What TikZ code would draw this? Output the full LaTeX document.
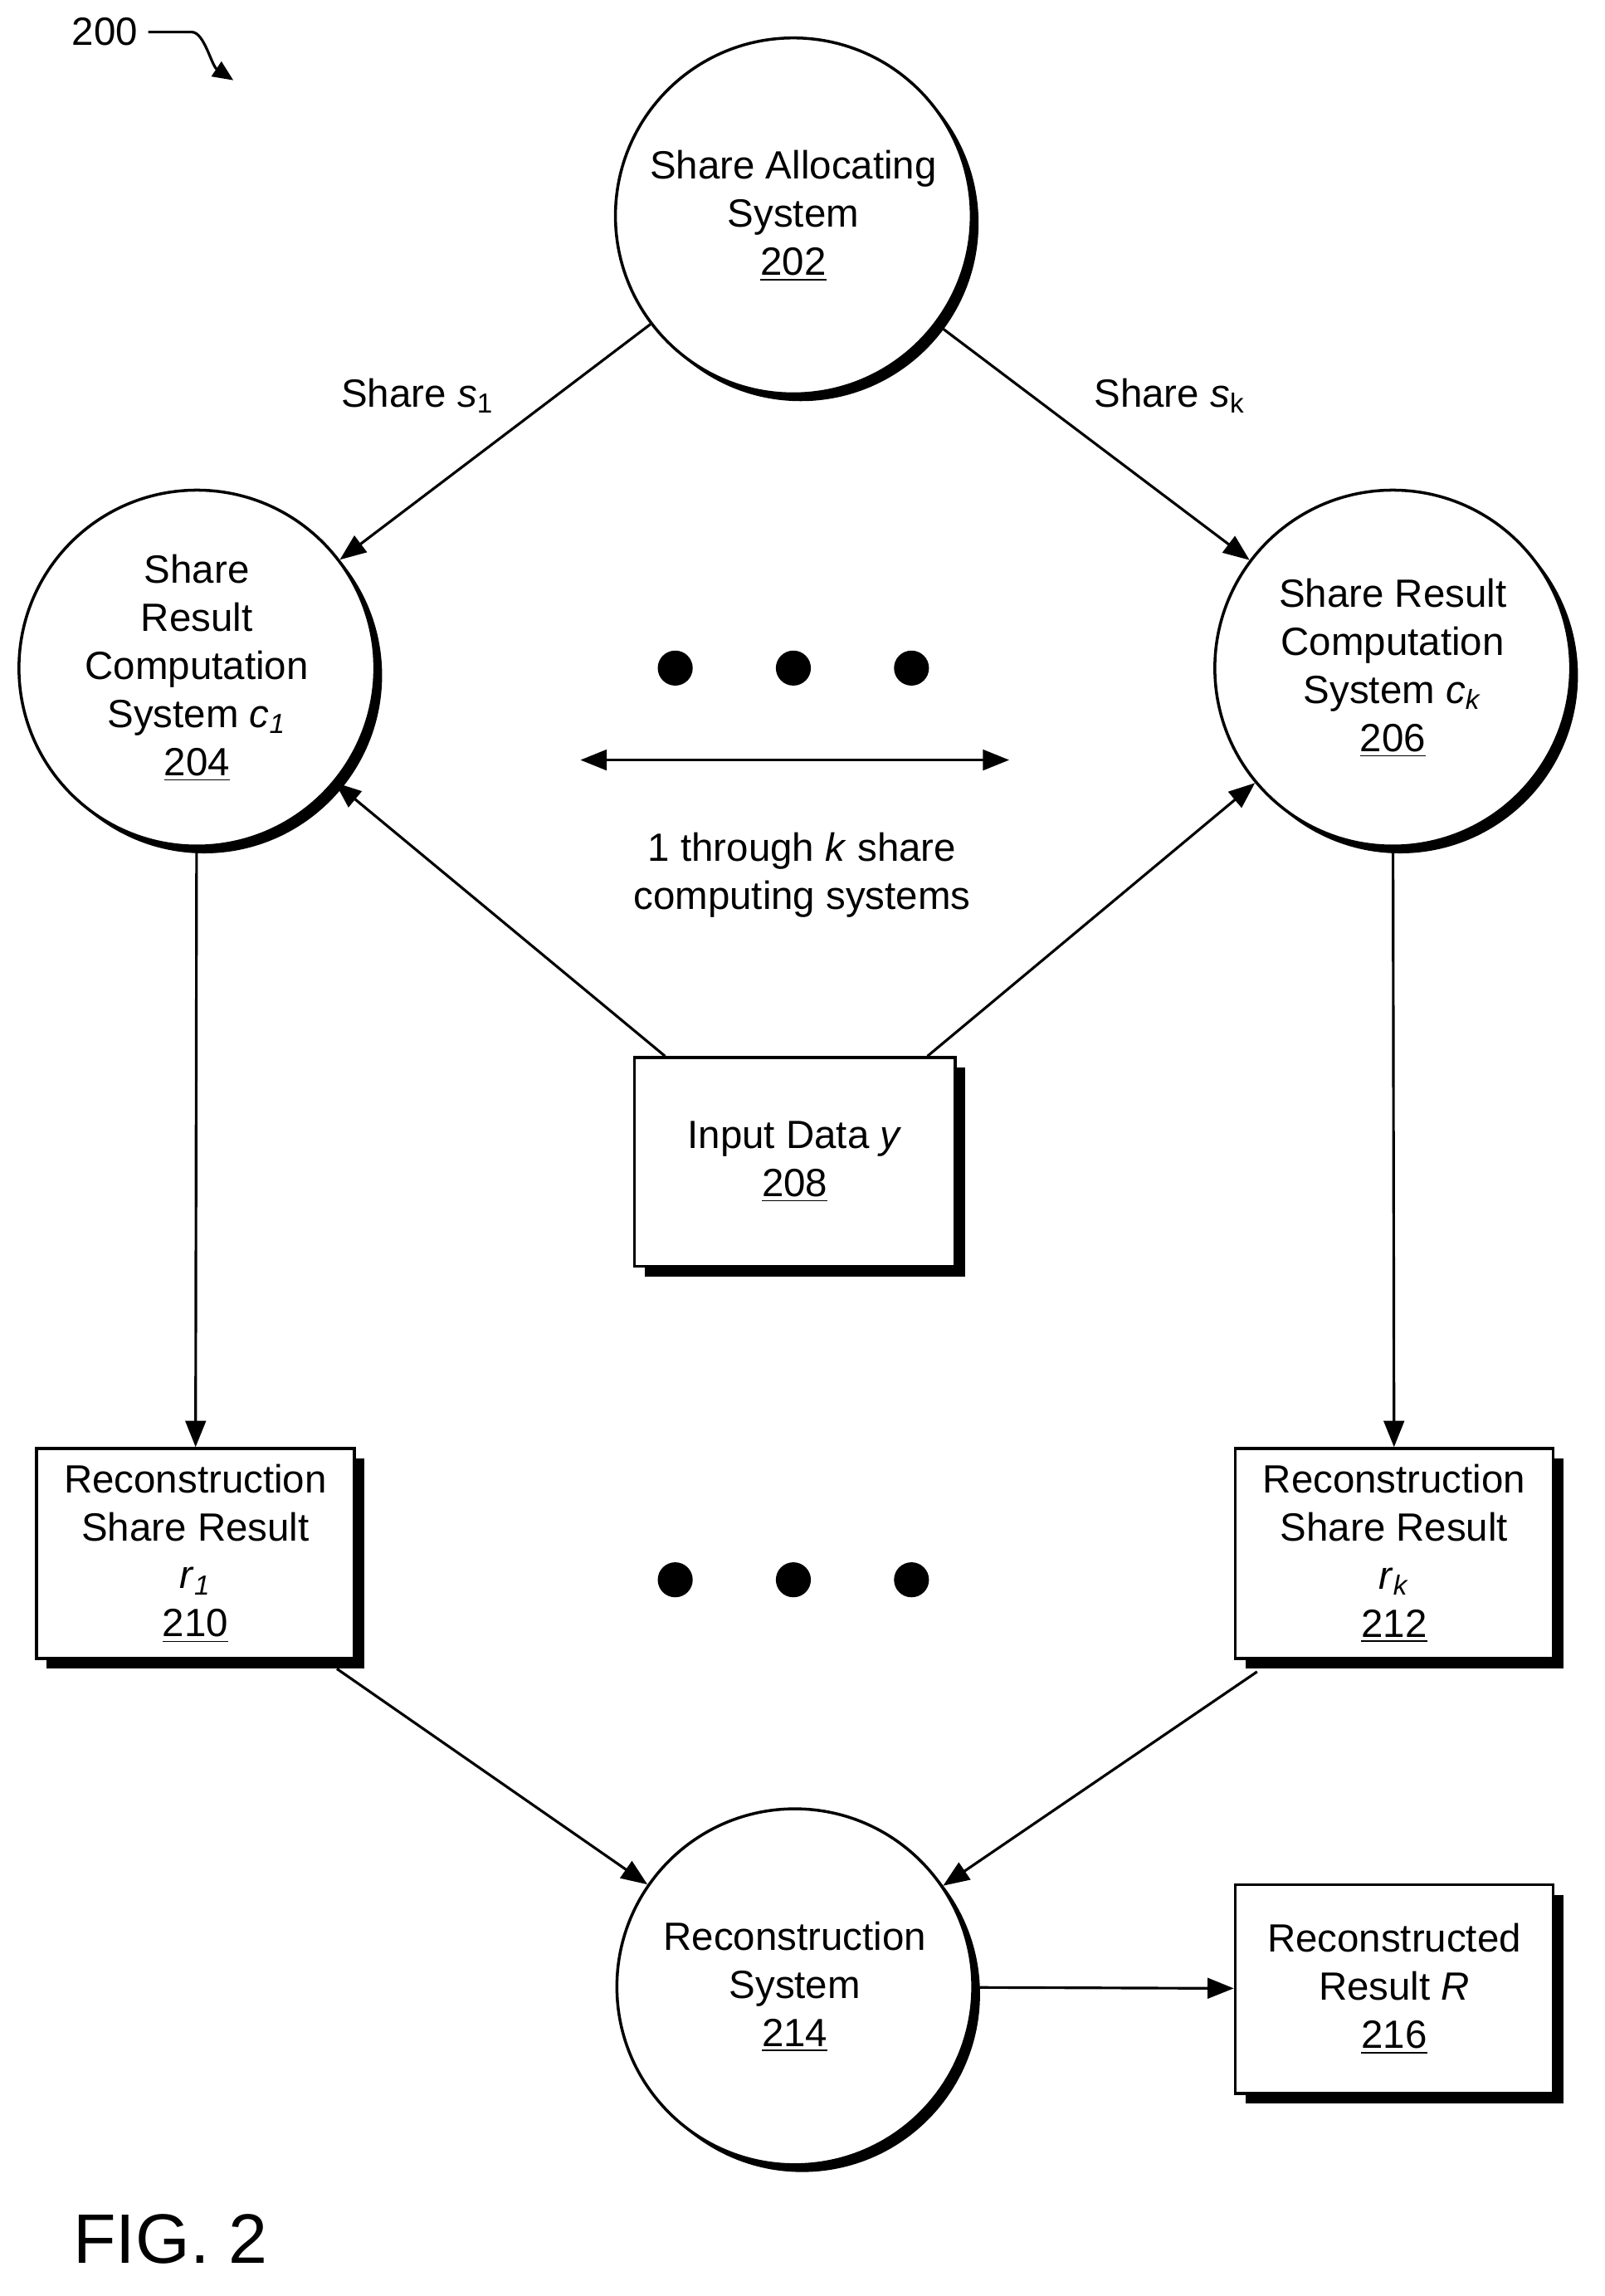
\documentclass[tikz,border=0pt]{standalone}
\usepackage{fontspec}
\setmainfont{Liberation Sans}
\usetikzlibrary{arrows.meta}
\begin{document}
\begin{tikzpicture}[x=0.5pt,y=-0.5pt,
  every node/.style={font=\fontsize{13.5}{16.5}\selectfont},
  circ/.style={circle,draw,line width=1pt,fill=white,minimum size=122pt,inner sep=0pt,align=center},
  bx/.style={draw,line width=1pt,fill=white,align=center,inner sep=0pt},
  arr/.style={line width=0.9pt,-{Triangle[length=9pt,width=7pt]}},
  dot/.style={circle,fill=black,minimum size=12pt,inner sep=0pt}]
\useasboundingbox (0,0) rectangle (1100,1574);
% shadows
\foreach \x/\y in {544/148,135/458,955/458,545/1362}{\fill (\x+5,\y+5) circle (61pt);}
\fill (442,732) rectangle (662,875);
\fill (32,1000) rectangle (250,1144);
\fill (854,1000) rectangle (1072,1144);
\fill (854,1299) rectangle (1072,1442);
\node[circ] (a) at (544,148) {Share Allocating\\System\\\underline{202}};
\node[circ] (c1) at (135,458) {Share\\Result\\Computation\\System \textit{c}\textsubscript{\textit{1}}\\\underline{204}};
\node[circ] (ck) at (955,458) {Share Result\\Computation\\System \textit{c}\textsubscript{\textit{k}}\\\underline{206}};
\node[circ] (rs) at (545,1362) {Reconstruction\\System\\\underline{214}};
\node[bx,minimum width=110pt,minimum height=71.5pt] (in) at (545,796.5) {Input Data \textit{y}\\\underline{208}};
\node[bx,minimum width=109pt,minimum height=72pt] (r1) at (134,1065) {Reconstruction\\Share Result\\\textit{r}\textsubscript{\textit{1}}\\\underline{210}};
\node[bx,minimum width=109pt,minimum height=72pt] (rk) at (956,1065) {Reconstruction\\Share Result\\\textit{r}\textsubscript{\textit{k}}\\\underline{212}};
\node[bx,minimum width=109pt,minimum height=71.5pt] (R) at (956,1363.5) {Reconstructed\\Result \textit{R}\\\underline{216}};
\draw[arr] (a) -- (c1) node[pos=0.45,above left=2pt] {Share \textit{s}\textsubscript{1}};
\draw[arr] (a) -- (ck) node[pos=0.45,above right=2pt] {Share \textit{s}\textsubscript{k}};
\draw[arr] (in.north west)++(22,0) coordinate (p1) -- (c1);
\draw[arr] (in.north east)++(-20,0) coordinate (p2) -- (ck);
\draw[arr] (c1) -- (r1);
\draw[arr] (ck) -- (rk);
\draw[arr] (r1.south east)++(-13,6) coordinate (q1) -- (rs);
\draw[arr] (rk.south west)++(16,8) coordinate (q2) -- (rs);
\draw[arr] (rs) -- (R);
\coordinate (d1) at (398,521); \coordinate (d2) at (692,521);
\draw[line width=0.9pt,{Triangle[length=9pt,width=7pt]}-{Triangle[length=9pt,width=7pt]}] (d1) -- (d2);
\node (lab) at (550,600) [align=center] {1 through \textit{k} share\\computing systems};
\foreach \x in {463,544,625}{\node[dot] (t\x) at (\x,458) {}; \node[dot] (b\x) at (\x,1083) {};}
\node (n200) at (72,22) {200};
\coordinate (s200) at (160,55);
\draw[line width=0.9pt,-{Triangle[length=7pt,width=6pt]}] (n200.east) -- ++(30,0) .. controls (140,22) and (145,45) .. (s200);
\node[font=\fontsize{24}{28}\selectfont] (fig) at (117,1535) {FIG. 2};
\end{tikzpicture}
\end{document}
